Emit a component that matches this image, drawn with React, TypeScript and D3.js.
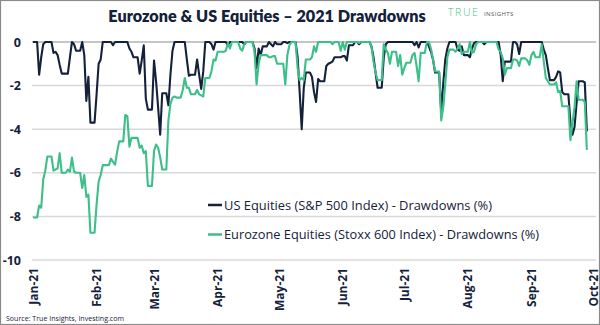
import React from "react";
import * as d3 from "d3";

// ---------- data (drawdowns in %, one value per trading day) ----------
const usJan = [0, -1.5, -0.7, -0.1, 0, 0, -0.5, -0.45, -0.6, -1.05, -1.45, -1.45, -0.7, 0, -0.1, -0.4, 0, -0.6, -2.7, -1.6, -3.7];
const usFeb = [-2.4, -1.0, -0.8, 0, 0, 0, -0.15, 0, 0, 0, 0, 0, -0.3, -0.45, -0.7, -1.45, -0.85, -0.15, -2.6, -3.1];
const usMar = [-0.85, -1.8, -3.0, -4.25, -2.35, -2.9, -1.5, -0.4, 0, 0, 0, 0, -0.8, -1.55, -1.5, -0.8, -1.5, -2.15, -1.35, 0, -0.1, -0.35, 0];
const usApr = [0, 0, 0, -0.15, 0, 0, 0, 0, 0, -0.1, 0, 0, -0.3, -1.2, -0.3, -0.6, -0.2, 0, -0.1, -0.2, 0, -0.1];
const usMay = [0, 0, -0.05, 0, 0, -0.7, -2.3, -4.0, -2.1, -1.4, -1.6, -2.3, -2.75, -1.7, -1.8, -1.1, -1.0, -0.95, -0.9, -0.7, -0.7];
const usJun = [-0.65, -0.65, -0.85, -0.15, 0, 0, -0.1, 0, 0, 0, -0.2, -0.7, -1.4, -2.1, -0.7, -0.1, 0, 0, 0, 0, 0, 0];
const usJul = [0, 0, 0, -0.15, 0, -0.25, 0, 0, -0.2, -0.45, -0.8, -1.4, -3.2, -1.9, -0.8, -0.3, 0, 0, -0.35, -0.4, -0.2, -0.6];
const usAug = [-0.7, -0.3, -0.05, 0, 0, -0.1, 0, 0, 0, 0, 0, -0.6, -1.8, -0.9, -0.9, 0, 0, -0.1, -0.55, 0, 0, 0];
const usSep = [0, 0, 0, 0, -0.35, -0.6, -1.2, -1.75, -1.6, -1.35, -1.4, -2.3, -2.4, -3.7, -4.25, -3.9, -2.8, -1.8, -1.85, -4.1];

const ezJan = [-8.05, -7.5, -7.6, -6.3, -5.9, -5.25, -5.9, -5.85, -5.8, -5.1, -6.0, -5.85, -5.95, -5.3, -5.95, -6.0, -6.7, -6.1, -7.1, -7.0, -8.75];
const ezFeb = [-7.45, -6.4, -6.1, -5.65, -5.65, -5.35, -5.5, -5.63, -5.05, -4.56, -3.35, -3.4, -4.8, -4.4, -4.4, -4.85, -4.75, -5.1, -5.0, -6.6];
const ezMar = [-5.0, -4.7, -4.85, -5.3, -5.85, -3.6, -2.85, -2.55, -2.5, -2.55, -2.2, -1.65, -2.1, -2.1, -2.4, -2.2, -2.4, -2.45, -2.5, -1.65, -1.35, -0.8, -0.85];
const ezApr = [-0.45, -0.45, -0.4, -0.05, -0.3, 0, 0, -0.3, -0.4, -0.1, 0, 0, -0.45, -1.95, -1.0, -0.6, -0.6, -0.7, -0.7, -0.65, -0.65, -1.0];
const ezMay = [-1.0, -1.95, -0.6, -0.15, 0, -1.2, -1.75, -1.65, -1.75, -0.8, -0.7, -0.2, -0.45, 0, 0, 0, 0, 0, -0.1, 0, -0.4];
const ezJun = [0, -0.35, 0, 0, 0, 0, -0.05, 0, 0, 0, -0.2, -0.9, -1.4, -1.75, -0.1, -0.35, -0.5, -1.0, -0.45, -1.1, -0.6, -1.5];
const ezJul = [-1.2, -0.95, -0.6, -0.5, -1.1, -1.8, -0.5, 0, 0, -0.3, -0.8, -1.35, -3.6, -3.0, -1.9, -0.7, -0.35, -0.45, -0.3, -0.1, -0.55, -0.45];
const ezAug = [0, -0.5, -0.45, -0.1, 0, 0, 0, 0, 0, 0, -0.35, -0.45, -0.75, -1.5, -1.2, -0.8, -0.8, -0.85, -1.1, -0.75, -0.85, -1.05];
const ezSep = [-0.6, -0.45, -0.7, -0.1, -0.9, -1.65, -1.8, -1.95, -1.85, -2.3, -2.25, -2.95, -2.95, -4.5, -3.7, -3.0, -1.8, -2.65, -2.75, -4.95];

const usMonths = [usJan, usFeb, usMar, usApr, usMay, usJun, usJul, usAug, usSep];
const ezMonths = [ezJan, ezFeb, ezMar, ezApr, ezMay, ezJun, ezJul, ezAug, ezSep];

const yTicks = [0, -2, -4, -6, -8, -10];
const seriesNames = [
  "US Equities (S&P 500 Index) - Drawdowns (%)",
  "Eurozone Equities (Stoxx 600 Index) - Drawdowns (%)",
];
const title = "Eurozone & US Equities \u2013 2021 Drawdowns";
const source = "Source: True Insights, Investing.com";

// ---------- helpers ----------
const START = new Date(2021, 0, 1);
const END = new Date(2021, 9, 1);

function buildSeries(months: number[][]): [Date, number][] {
  const pts: [Date, number][] = [];
  months.forEach((vals, m) => {
    const days = d3.timeDay
      .range(new Date(2021, m, 1), new Date(2021, m + 1, 1))
      .filter((d) => d.getDay() !== 0 && d.getDay() !== 6)
      .slice(0, vals.length);
    days.forEach((d, i) => pts.push([d, vals[i]]));
  });
  // carry each value across the non-trading days that follow it (calendar-day chart)
  const out: [Date, number][] = [];
  pts.forEach((p, i) => {
    out.push(p);
    const next = pts[i + 1];
    if (next) {
      const prevDay = d3.timeDay.offset(next[0], -1);
      if (prevDay > p[0]) out.push([prevDay, p[1]]);
    }
  });
  return out;
}

const NAVY = "#14213a";
const GREEN = "#3cbf88";
const FONT = "'Open Sans', 'DejaVu Sans', sans-serif";
const TITLE_FONT = "Lato, 'Open Sans', sans-serif";

export default function App() {
  const W = 600;
  const H = 325;
  const x = d3.scaleTime().domain([START, END]).range([33, 593]);
  const y = d3.scaleLinear().domain([-10, 0]).range([260, 42]);
  const line = d3
    .line<[Date, number]>()
    .x((d) => x(d[0]))
    .y((d) => y(d[1]));
  const us = buildSeries(usMonths);
  const ez = buildSeries(ezMonths);
  const months = d3.timeMonth.range(START, d3.timeDay.offset(END, 1));
  const fmt = d3.timeFormat("%b-%y");

  return (
    <div style={{ position: "fixed", left: 0, top: 0 }}>
      <svg width={W} height={H} style={{ display: "block", background: "#fff" }}>
        <rect x={0.5} y={0.5} width={W - 1} height={H - 1} fill="#fff" stroke="#8a8a8a" strokeWidth={1.2} />
        {/* title */}
        <text x={267} y={22} textAnchor="middle" fontFamily={TITLE_FONT} fontWeight={800} fontSize={16.2} fill={NAVY}>
          {title}
        </text>
        {/* logo */}
        <text x={448} y={16} fontFamily={FONT} fontWeight={300} fontSize={10.5} fill={GREEN} letterSpacing={1.6}>
          TRUE
        </text>
        <text x={484} y={15.5} fontFamily={FONT} fontWeight={400} fontSize={6} fill="#555" letterSpacing={0.4}>
          INSIGHTS
        </text>
        {/* grid */}
        {yTicks.map((t) => (
          <line key={t} x1={32} x2={596} y1={y(t)} y2={y(t)} stroke={t === 0 ? "#8c8c8c" : "#d9d9d9"} strokeWidth={t === 0 ? 1.2 : 1.5} />
        ))}
        {/* y labels */}
        {yTicks.map((t) => (
          <text key={t} x={21} y={y(t) + 4.5} textAnchor="end" fontFamily={FONT} fontWeight={700} fontSize={12.5} fill={NAVY}>
            {t === 0 ? "0" : "-" + Math.abs(t)}
          </text>
        ))}
        {/* x labels */}
        {months.map((m) => (
          <text
            key={+m}
            transform={`translate(${x(m) + 4.5},268) rotate(-90)`}
            textAnchor="end"
            fontFamily={FONT}
            fontWeight={700}
            fontSize={12}
            fill={NAVY}
          >
            {fmt(m)}
          </text>
        ))}
        {/* series */}
        <path d={line(us) || ""} fill="none" stroke={NAVY} strokeWidth={2.1} strokeLinejoin="round" />
        <path d={line(ez) || ""} fill="none" stroke={GREEN} strokeWidth={2.1} strokeLinejoin="round" />
        {/* legend */}
        {seriesNames.map((n, i) => (
          <g key={n} transform={`translate(0,${205 + i * 29.5})`}>
            <line x1={208} x2={222} y1={0} y2={0} stroke={i === 0 ? NAVY : GREEN} strokeWidth={2.5} />
            <text x={224} y={4.5} fontFamily={FONT} fontSize={12.5} fill={NAVY} textLength={i === 0 ? 268 : 315} lengthAdjust="spacingAndGlyphs">
              {n}
            </text>
          </g>
        ))}
        {/* source */}
        <text x={6} y={320.5} fontFamily={FONT} fontSize={7.8} fill={NAVY} textLength={118} lengthAdjust="spacingAndGlyphs">
          {source}
        </text>
      </svg>
    </div>
  );
}
